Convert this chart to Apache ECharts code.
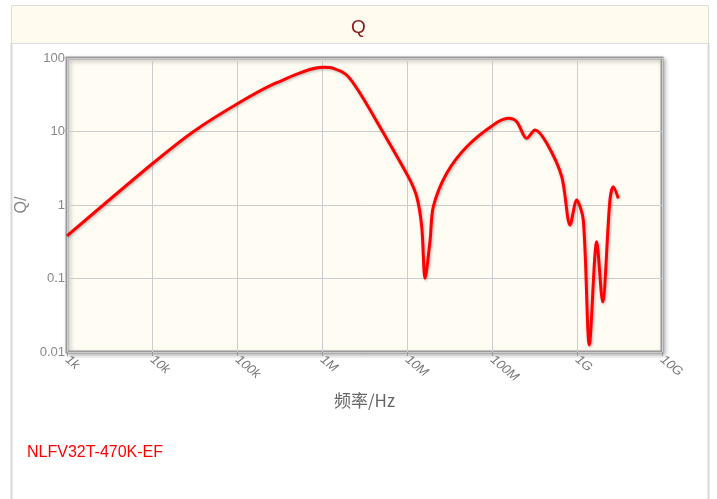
<!DOCTYPE html>
<html><head><meta charset="utf-8">
<script src="https://cdn.jsdelivr.net/npm/echarts@6/dist/echarts.min.js"></script>
<style>html,body{margin:0;padding:0;background:#fff;}#c{width:717px;height:499px;}</style>
</head><body><div id="c"></div>
<script>
var freq = [1e3, 1e4, 3.06e4, 1.035e5, 2.93e5, 1.035e6, 1.36e6, 1.95e6, 2.80e6, 4.81e6,
  1.035e7, 1.30e7, 1.49e7, 1.63e7, 1.87e7, 2.04e7, 2.93e7, 5.04e7,
  1.035e8, 1.556e8, 1.954e8, 2.56e8, 3.21e8, 4.41e8, 6.61e8, 8.28e8,
  9.91e8, 1.186e9, 1.396e9, 1.706e9, 2.00e9,
  2.44e9, 2.67e9, 3.06e9];
var qValues = [0.379, 3.61, 9.94, 24.2, 46.1, 74.7, 72.4, 58.7, 33.1, 11.5,
  2.43, 1.30, 0.507, 0.101, 0.334, 0.948, 2.70, 6.21,
  12.3, 15.1, 13.6, 8.08, 10.5, 6.91, 2.43, 0.535,
  1.17, 0.625, 0.0125, 0.317, 0.0483,
  1.17, 1.77, 1.23];
var xTickValues = [1e3, 1e4, 1e5, 1e6, 1e7, 1e8, 1e9, 1e10];
var xTickLabels = ['1k', '10k', '100k', '1M', '10M', '100M', '1G', '10G'];
var yTickValues = [0.01, 0.1, 1, 10, 100];
var yTickLabels = ['0.01', '0.1', '1', '10', '100'];
var partName = 'NLFV32T-470K-EF';

function lookup(vals, labels, v) {
  for (var i = 0; i < vals.length; i++) {
    if (Math.abs(Math.log10(v) - Math.log10(vals[i])) < 1e-6) return labels[i];
  }
  return '';
}

var data = freq.map(function (f, i) { return [f, qValues[i]]; });
var chart = echarts.init(document.getElementById('c'));
chart.setOption({
  animation: false,
  backgroundColor: '#fff',
  graphic: [
    { type: 'rect', z: -10, shape: { x: 11.5, y: 5.5, width: 697, height: 38 }, style: { fill: '#fffbee', stroke: '#dddddd', lineWidth: 1 } },
    { type: 'line', z: -10, shape: { x1: 11.5, y1: 43, x2: 11.5, y2: 499 }, style: { stroke: '#d8d8d8', lineWidth: 2 } },
    { type: 'line', z: -10, shape: { x1: 708.5, y1: 43, x2: 708.5, y2: 499 }, style: { stroke: '#d8d8d8', lineWidth: 2 } },
    { type: 'text', left: 27, top: 445, style: { text: partName, fill: '#ff0000', font: '16px "Liberation Sans", Arial, sans-serif' } }
  ],
  title: {
    text: 'Q', left: 'center', top: 13,
    textStyle: { color: '#8b1a1a', fontSize: 19, fontWeight: 'normal', fontFamily: '"Liberation Sans", Arial, sans-serif' }
  },
  grid: {
    left: 67, top: 58, width: 595, height: 294,
    show: true, backgroundColor: '#fffcf4', borderColor: '#999999', borderWidth: 3,
    shadowColor: 'rgba(0,0,0,0.25)', shadowBlur: 4, shadowOffsetX: 2, shadowOffsetY: 2
  },
  xAxis: {
    type: 'log', logBase: 10, min: 1e3, max: 1e10,
    name: '频率/Hz', nameLocation: 'middle', nameGap: 40, nameMoveOverlap: false,
    nameTextStyle: { color: '#666', fontSize: 17, fontFamily: '"Noto Sans CJK SC", sans-serif' },
    axisLine: { show: false },
    axisTick: { show: true, length: 4, lineStyle: { color: '#999' } },
    axisLabel: {
      rotate: -40, margin: 6, color: '#777', fontSize: 13, fontStyle: 'italic',
      fontFamily: '"Liberation Sans", Arial, sans-serif',
      formatter: function (v) { return lookup(xTickValues, xTickLabels, v); }
    },
    splitLine: { show: true, lineStyle: { color: '#cccccc', width: 1 } }
  },
  yAxis: {
    type: 'log', logBase: 10, min: 0.01, max: 100,
    name: 'Q/', nameLocation: 'middle', nameGap: 37, nameRotate: 90, nameMoveOverlap: false,
    nameTextStyle: { color: '#888', fontSize: 16, fontFamily: '"Liberation Sans", Arial, sans-serif' },
    axisLine: { show: false },
    axisTick: { show: false },
    axisLabel: {
      margin: 2, color: '#888', fontSize: 13, fontFamily: '"Liberation Sans", Arial, sans-serif',
      formatter: function (v) { return lookup(yTickValues, yTickLabels, v); }
    },
    splitLine: { show: true, lineStyle: { color: '#cccccc', width: 1 } }
  },
  series: [{
    type: 'line', data: data, smooth: 0.3, symbol: 'none', clip: true,
    lineStyle: { color: '#ff0000', width: 3, shadowColor: 'rgba(0,0,0,0.3)', shadowBlur: 3, shadowOffsetX: 1, shadowOffsetY: 1 }
  }]
});
</script></body></html>
